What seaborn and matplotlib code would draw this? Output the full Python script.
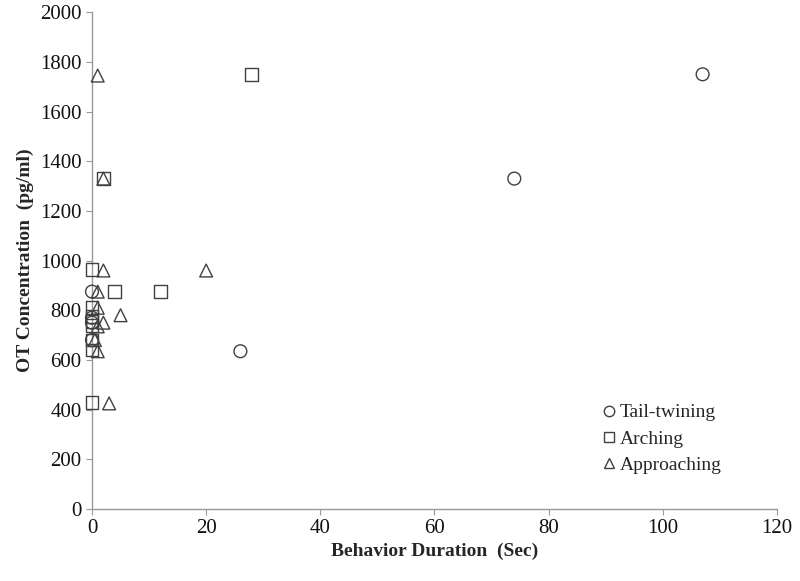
import pandas as pd
import numpy as np
import matplotlib
matplotlib.use("Agg")
import matplotlib.pyplot as plt
import seaborn as sns
from matplotlib.lines import Line2D

# Data
tail_x = [0, 0, 0, 0, 26, 74, 107]
tail_y = [875, 770, 750, 680, 635, 1330, 1750]

arch_x = [0, 0, 0, 0, 0, 0, 0, 0, 2, 4, 12, 28]
arch_y = [965, 810, 775, 755, 740, 680, 640, 430, 1330, 875, 875, 1750]

appr_x = [1, 2, 2, 20, 1, 1, 5, 2, 1, 0.5, 1, 3]
appr_y = [1745, 1330, 960, 960, 875, 810, 780, 750, 735, 680, 635, 425]

labels = ["Tail-twining", "Arching", "Approaching"]
markers = ["o", "s", "^"]

df = pd.concat([
    pd.DataFrame({"Duration": tail_x, "OT": tail_y, "Behavior": labels[0]}),
    pd.DataFrame({"Duration": arch_x, "OT": arch_y, "Behavior": labels[1]}),
    pd.DataFrame({"Duration": appr_x, "OT": appr_y, "Behavior": labels[2]}),
])

sns.set_style("white")
plt.rcParams["font.family"] = ["Liberation Serif", "DejaVu Serif"]

fig = plt.figure(figsize=(8, 5.81), dpi=100)
ax = fig.add_axes([0.115, 0.124, 0.856, 0.855])

edge = "#404040"
for lab, m in zip(labels, markers):
    sub = df[df["Behavior"] == lab]
    sns.scatterplot(data=sub, x="Duration", y="OT", marker=m, s=85,
                    linewidth=1.0, ax=ax, legend=False, clip_on=False)

for coll in ax.collections:
    coll.set_facecolor("none")
    coll.set_edgecolor(edge)
    coll.set_linewidth(1.0)
    coll.set_clip_on(False)
    coll.set_zorder(3)

ax.set_xlim(0, 120)
ax.set_ylim(0, 2000)
ax.set_xticks(np.arange(0, 121, 20))
ax.set_yticks(np.arange(0, 2001, 200))
ax.tick_params(axis="both", labelsize=15, length=4, width=0.8, labelcolor="#111111",
               color="#999999", direction="out", left=True, bottom=True)

for s in ["top", "right"]:
    ax.spines[s].set_visible(False)
for s in ["left", "bottom"]:
    ax.spines[s].set_color("#999999")
    ax.spines[s].set_linewidth(1.0)

ax.set_xlabel("Behavior Duration  (Sec)", fontsize=14, fontweight="bold", labelpad=3)
ax.set_ylabel("OT Concentration  (pg/ml)", fontsize=14, fontweight="bold", labelpad=4)

handles = [Line2D([], [], linestyle="none", marker=m, markersize=7.5,
                  markerfacecolor="none", markeredgecolor=edge, markeredgewidth=1.0)
           for m in markers]
ax.legend(handles, labels, loc="lower right", bbox_to_anchor=(0.945, 0.035),
          frameon=False, fontsize=14, handletextpad=0.05, handlelength=1.0,
          labelspacing=0.45)

fig.savefig("out.png", dpi=100)
